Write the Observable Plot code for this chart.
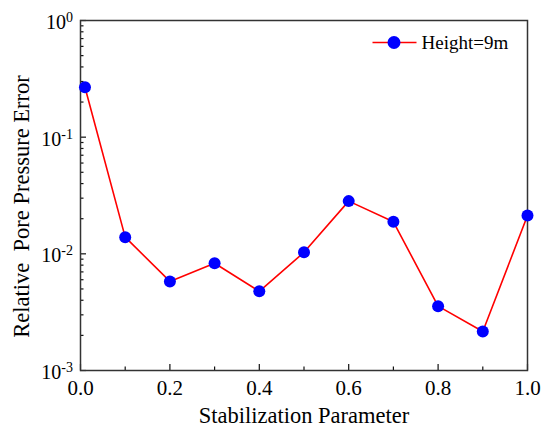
<!DOCTYPE html>
<html>
<head>
<meta charset="utf-8">
<script src="https://cdn.jsdelivr.net/npm/d3@7"></script>
<script src="https://cdn.jsdelivr.net/npm/@observablehq/plot@0.6"></script>
<style>
  html, body { margin: 0; padding: 0; background: #fff; }
  #chart svg { display: block; }
</style>
</head>
<body>
<div id="chart"></div>
<script>
const stabilization = [0.01, 0.1, 0.2, 0.3, 0.4, 0.5, 0.6, 0.7, 0.8, 0.9, 1.0];
const errors = [0.268, 0.0139, 0.0058, 0.0083, 0.00477, 0.0103, 0.0283, 0.0188, 0.00356, 0.00216, 0.0213];
const seriesName = "Height=9m";
const xMajorTicks = [0, 0.2, 0.4, 0.6, 0.8, 1.0];
const xMinorTicks = [0.1, 0.3, 0.5, 0.7, 0.9];
const yMajorTicks = [1e-3, 1e-2, 1e-1, 1];
const yMinorTicks = [2,3,4,5,6,7,8,9].flatMap(m => [1e-3, 1e-2, 1e-1].map(d => m * d));
const xTitle = "Stabilization Parameter";
const yTitle = "Relative\u00a0 Pore Pressure Error";

const FONT = "'Liberation Serif', 'Times New Roman', serif";
const data = stabilization.map((x, i) => ({x, y: errors[i]}));

const chart = Plot.plot({
  width: 546,
  height: 430,
  marginLeft: 80,
  marginRight: 19,
  marginTop: 20,
  marginBottom: 60,
  style: {fontFamily: FONT, background: "#fff", color: "#000"},
  x: {domain: [0, 1]},
  y: {type: "log", domain: [1e-3, 1]},
  marks: [
    Plot.axisX({ticks: xMajorTicks, tickSize: -6, text: null, label: null, stroke: "#111", strokeWidth: 1.2}),
    Plot.axisX({ticks: xMinorTicks, tickSize: -3.5, text: null, label: null, stroke: "#111", strokeWidth: 1.2}),
    Plot.axisX({ticks: xMajorTicks, tickSize: 0, tickPadding: 9.5, tickFormat: d => d.toFixed(1), fontSize: 21, label: null}),
    Plot.axisY({ticks: yMajorTicks, tickSize: -6, text: null, label: null, stroke: "#111", strokeWidth: 1.2}),
    Plot.axisY({ticks: yMinorTicks, tickSize: -3.5, text: null, label: null, stroke: "#111", strokeWidth: 1.2}),
    Plot.axisY({ticks: yMajorTicks, tickSize: 0, tickPadding: 7.5, dy: 2, tickFormat: d => "10|" + Math.round(Math.log10(d)), fontSize: 20, label: null}),
    Plot.frame({stroke: "#333", strokeWidth: 1.5}),
    Plot.line(data, {x: "x", y: "y", stroke: "#ff0000", strokeWidth: 1.6}),
    Plot.dot(data, {x: "x", y: "y", r: 6, fill: "#0000ff", stroke: "none"}),
    Plot.text([xTitle], {frameAnchor: "bottom", lineAnchor: "bottom", dy: 52, fontSize: 22.5, fontFamily: FONT, text: d => d, fill: "#000"}),
    Plot.text([yTitle], {frameAnchor: "left", textAnchor: "middle", dx: -58.5, dy: 11, rotate: -90, fontSize: 22.5, fontFamily: FONT, text: d => d, fill: "#000"})
  ]
});

// superscript exponents on y tick labels
d3.select(chart).selectAll('g[aria-label="y-axis tick label"] text').each(function() {
  const t = d3.select(this);
  const [base, exp] = t.text().split("|");
  t.text(null);
  t.append("tspan").text(base);
  t.append("tspan").attr("dy", "-0.5em").attr("font-size", "14px").text(exp);
});

// legend (inside the frame, top right)
const svg = d3.select(chart);
const lg = svg.append("g").attr("transform", "translate(372.5,42.5)");
lg.append("line").attr("x1", 0).attr("x2", 44).attr("y1", 0).attr("y2", 0).attr("stroke", "#ff0000").attr("stroke-width", 1.6);
lg.append("circle").attr("cx", 21.5).attr("cy", 0).attr("r", 6.5).attr("fill", "#0000ff");
lg.append("text").attr("x", 49).attr("y", 0).attr("dy", "0.35em").attr("font-size", 19)
  .attr("text-anchor", "start")
  .attr("font-family", FONT).attr("fill", "#000").text(seriesName);

document.getElementById("chart").append(chart);
</script>
</body>
</html>
